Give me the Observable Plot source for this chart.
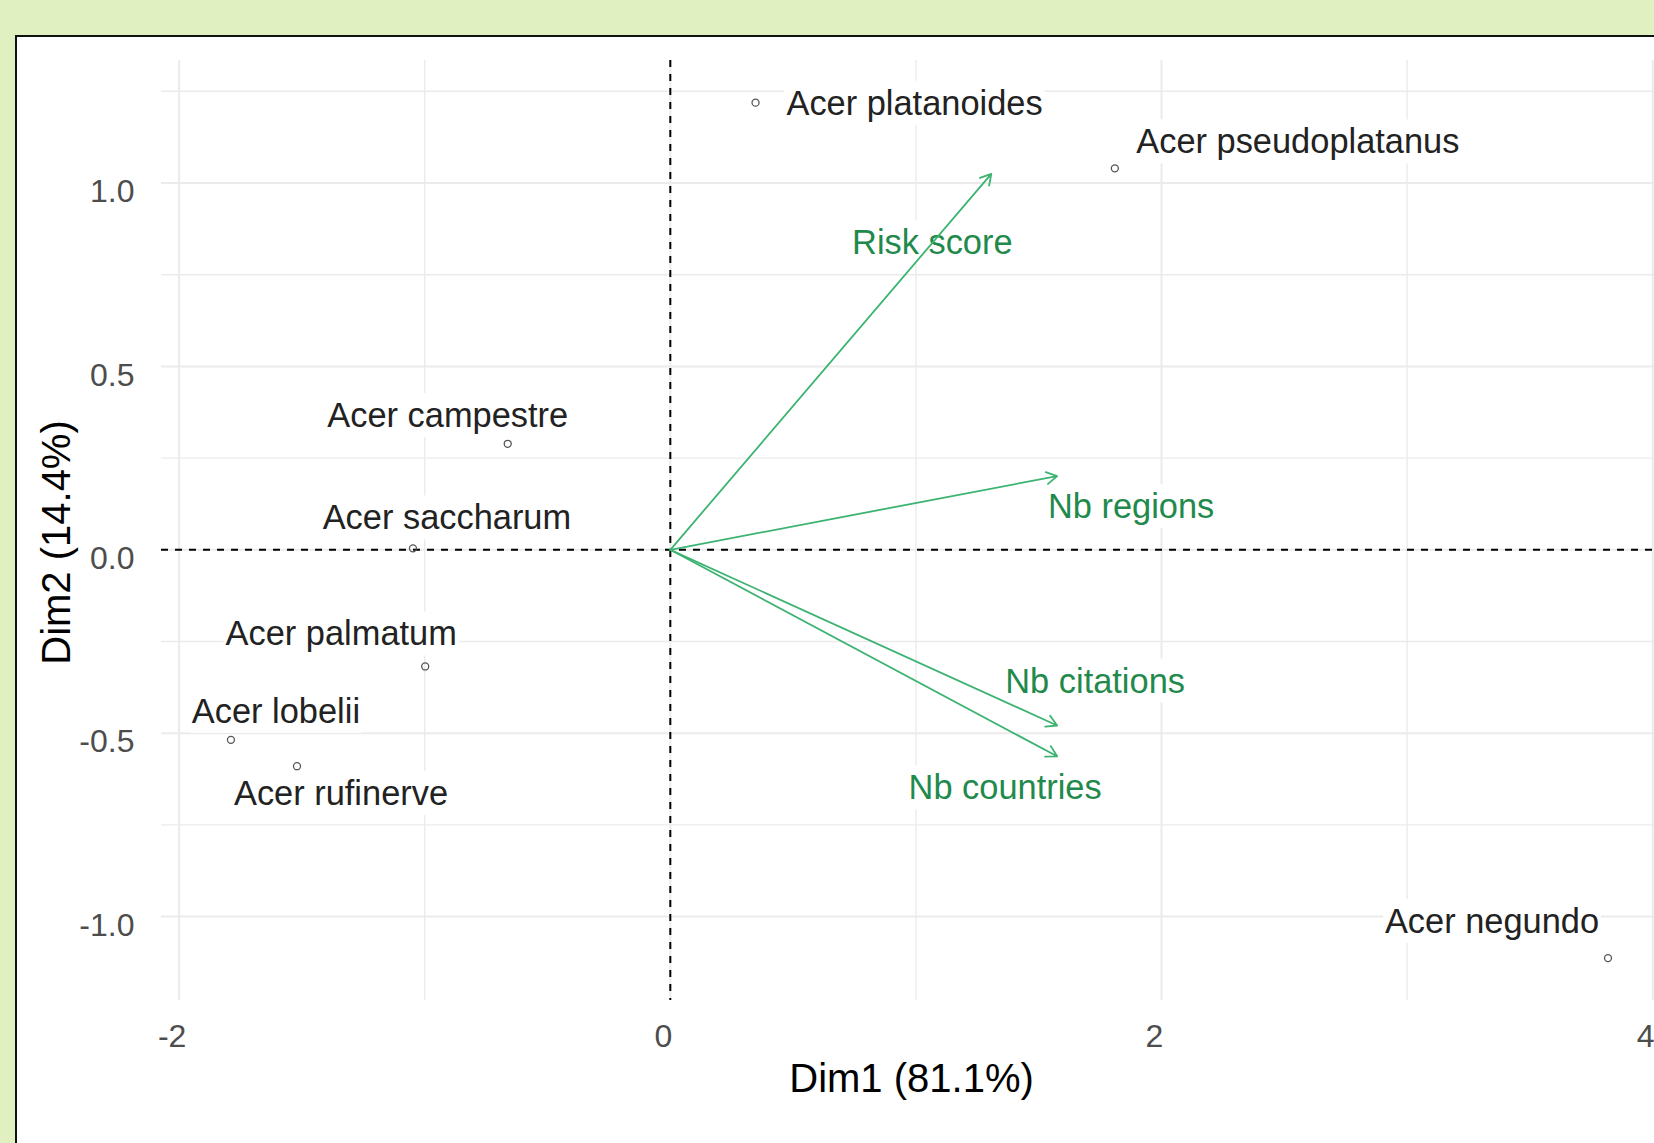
<!DOCTYPE html>
<html>
<head>
<meta charset="utf-8">
<script src="https://cdn.jsdelivr.net/npm/d3@7"></script>
<script src="https://cdn.jsdelivr.net/npm/@observablehq/plot@0.6"></script>
<style>
  html, body { margin: 0; padding: 0; width: 1654px; height: 1143px; overflow: hidden; background: #e0f0c1; }
  #panel { position: absolute; left: 15px; top: 35px; width: 1800px; height: 1300px; background: #fff; border: 2px solid #111; box-sizing: border-box; }
  #chart { position: absolute; left: 0; top: 0; width: 1700px; height: 1143px; }
  #chart svg { max-width: none !important; }
</style>
</head>
<body>
<div id="panel"></div>
<div id="chart"></div>
<script>
// PCA biplot of Acer species: individuals (Dim1, Dim2) and variable loadings.
const species = ["Acer platanoides", "Acer pseudoplatanus", "Acer campestre", "Acer saccharum",
                 "Acer palmatum", "Acer lobelii", "Acer rufinerve", "Acer negundo"];
const dim1 = [0.347, 1.810, -0.662, -1.048, -0.998, -1.789, -1.520, 3.818];
const dim2 = [1.219, 1.040, 0.289, 0.004, -0.318, -0.518, -0.590, -1.113];

const variables = ["Risk score", "Nb regions", "Nb citations", "Nb countries"];
const varDim1 = [1.307, 1.575, 1.575, 1.575];
const varDim2 = [1.025, 0.201, -0.479, -0.563];

const xTicks = [-2, 0, 2, 4];
const xMinor = [-1, 1, 3];
const yTicks = [-1, -0.5, 0, 0.5, 1];
const yMinor = [-0.75, -0.25, 0.25, 0.75, 1.25];

const xTitle = "Dim1 (81.1%)";
const yTitle = "Dim2 (14.4%)";

// label placement (pixel nudges away from each point / arrow tip, repel-style)
const speciesNudge = [[159, 1], [183, -26], [-60, -28], [34, -30], [-84, -32], [45, -28], [44, 28], [-116, -36]];
const variableNudge = [[-59, 69], [74, 31], [38, -44], [-52, 32]];

const FONT = "'Liberation Sans', Arial, Helvetica, sans-serif";
const GRID = "#ebebeb";
const ARROW = "#3cb371";
const VARTEXT = "#1f8a4c";

const individuals = species.map((name, i) => ({name, x: dim1[i], y: dim2[i]}));
const loadings = variables.map((name, i) => ({name, x: varDim1[i], y: varDim2[i]}));

const chart = Plot.plot({
  width: 1700,
  height: 1143,
  marginLeft: 161,
  marginRight: 39,
  marginTop: 60,
  marginBottom: 143,
  style: {background: "transparent", fontFamily: FONT, overflow: "visible", maxWidth: "none"},
  x: {domain: [-2.0717, 4.0358]},
  y: {domain: [-1.2287, 1.334]},
  marks: [
    Plot.gridX(xMinor, {stroke: GRID, strokeOpacity: 1, strokeWidth: 1.4}),
    Plot.gridY(yMinor, {stroke: GRID, strokeOpacity: 1, strokeWidth: 1.4}),
    Plot.gridX(xTicks, {stroke: GRID, strokeOpacity: 1, strokeWidth: 2}),
    Plot.gridY(yTicks, {stroke: GRID, strokeOpacity: 1, strokeWidth: 2}),
    Plot.axisX(xTicks, {tickSize: 0, tickPadding: 24, fontSize: 32, color: "#4d4d4d", dx: -7,
                        label: null, tickFormat: d => String(d)}),
    Plot.axisY(yTicks, {tickSize: 0, tickPadding: 27, fontSize: 32, color: "#4d4d4d", dy: 9,
                        label: null, tickFormat: d => d.toFixed(1)}),
    Plot.ruleX([0], {stroke: "#000", strokeWidth: 2, strokeDasharray: "7,7"}),
    Plot.ruleY([0], {stroke: "#000", strokeWidth: 2, strokeDasharray: "7,7"}),
    Plot.dot(individuals, {x: "x", y: "y", r: 3.5, stroke: "#555", strokeWidth: 1.3, fill: "none"}),
    ...individuals.map((d, i) => Plot.text([d], {
      x: "x", y: "y", text: "name", dx: speciesNudge[i][0], dy: speciesNudge[i][1],
      fontSize: 34.4, fill: "#222"
    })),
    ...loadings.map((d, i) => Plot.text([d], {
      x: "x", y: "y", text: "name", dx: variableNudge[i][0], dy: variableNudge[i][1],
      fontSize: 34.4, fill: VARTEXT
    })),
    Plot.arrow(loadings, {x1: () => 0, y1: () => 0, x2: "x", y2: "y",
                          stroke: ARROW, strokeWidth: 1.8, headLength: 10, headAngle: 60}),
    Plot.text([xTitle], {frameAnchor: "bottom", textAnchor: "middle", lineAnchor: "middle",
                         dy: 79, fontSize: 40, fill: "#000"}),
    Plot.text([yTitle], {frameAnchor: "left", textAnchor: "middle", lineAnchor: "middle",
                         rotate: -90, dx: -104, dy: 12, fontSize: 40, fill: "#000"})
  ]
});

document.getElementById("chart").append(chart);

// white label boxes so gridlines stop behind the point and variable labels
const labelSet = new Set([...species, ...variables]);
chart.querySelectorAll("text").forEach(t => {
  if (!labelSet.has(t.textContent)) return;
  const b = t.getBBox();
  const r = document.createElementNS("http://www.w3.org/2000/svg", "rect");
  r.setAttribute("x", b.x - 2);
  r.setAttribute("y", b.y - 3);
  r.setAttribute("width", b.width + 4);
  r.setAttribute("height", b.height + 6);
  r.setAttribute("fill", "#fff");
  r.setAttribute("stroke", "none");
  const tr = t.getAttribute("transform");
  if (tr) r.setAttribute("transform", tr);
  t.parentNode.insertBefore(r, t);
});
</script>
</body>
</html>
